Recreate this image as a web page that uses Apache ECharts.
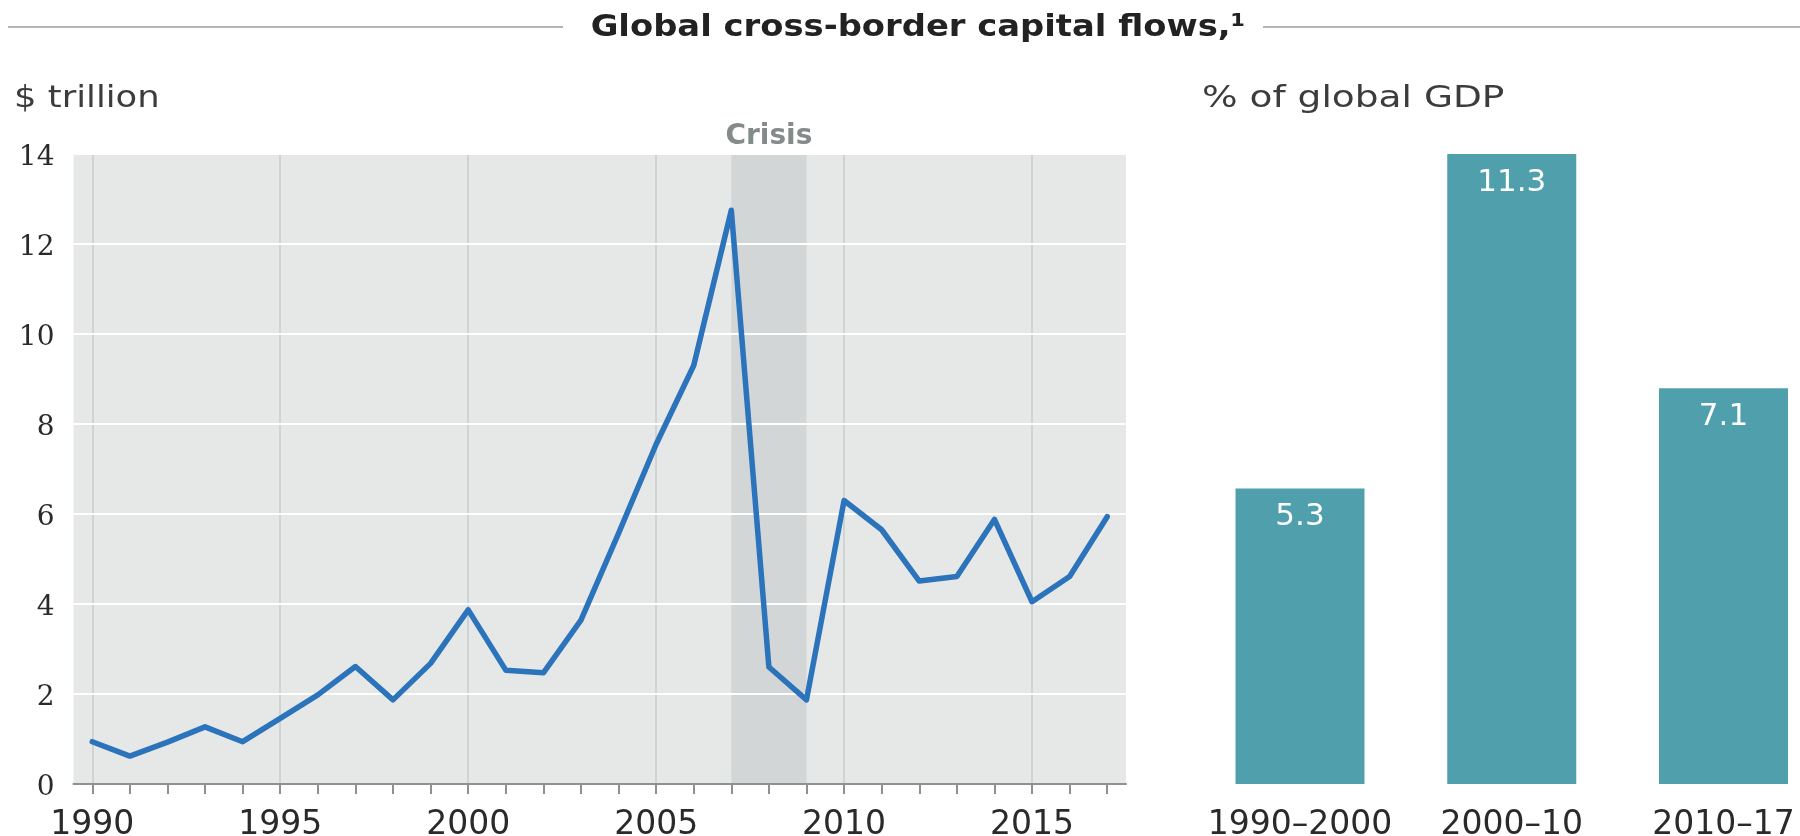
<!DOCTYPE html>
<html>
<head>
<meta charset="utf-8">
<script src="https://cdn.jsdelivr.net/npm/echarts@6/dist/echarts.min.js"></script>
<style>
  html, body { margin: 0; padding: 0; background: #ffffff; }
  #chart { width: 1800px; height: 836px; }
</style>
</head>
<body>
<div id="chart"></div>
<script>
// Annual gross cross-border capital flows, $ trillion
const years = ['1990', '1991', '1992', '1993', '1994', '1995', '1996', '1997', '1998', '1999',
               '2000', '2001', '2002', '2003', '2004', '2005', '2006', '2007', '2008', '2009',
               '2010', '2011', '2012', '2013', '2014', '2015', '2016', '2017'];
const flowsTrillion = [0.94, 0.62, 0.93, 1.27, 0.94, 1.46, 1.98, 2.61, 1.87, 2.68,
                       3.87, 2.53, 2.47, 3.64, 5.57, 7.55, 9.30, 12.75, 2.60, 1.87,
                       6.30, 5.65, 4.51, 4.61, 5.88, 4.05, 4.61, 5.94];

// Vertical reference lines and the shaded crisis window
const gridYears = ['1990', '1995', '2000', '2005', '2010', '2015'];
const crisisSpan = ['2007', '2009'];
const crisisLabel = 'Crisis';

// Average flows as a share of global GDP, by period
const periods = ['1990\u20132000', '2000\u201310', '2010\u201317'];
const shareOfGdp = [5.3, 11.3, 7.1];

// Left value axis
const yMin = 0, yMax = 14, yStep = 2;

const titleText = 'Global cross-border capital flows,\u00B9';
const leftUnit = '$ trillion';
const rightUnit = '% of global GDP';

const sans = '"DejaVu Sans", "Liberation Sans", sans-serif';
const serif = '"DejaVu Serif", "Liberation Serif", serif';

const chart = echarts.init(document.getElementById('chart'), null, { renderer: 'canvas' });

const option = {
  animation: false,
  backgroundColor: '#ffffff',
  grid: [
    { left: 73.5, right: 674, top: 154, bottom: 52, show: true,
      backgroundColor: '#e6e7e7', borderWidth: 0, outerBoundsMode: 'none' },
    { left: 1300, right: 76.5, top: 154, bottom: 52, outerBoundsMode: 'none' }
  ],
  xAxis: [
    {
      type: 'category', gridIndex: 0, data: years, boundaryGap: true, z: 1.6,
      axisLine: { show: true, lineStyle: { color: '#8e9191', width: 2 } },
      axisTick: { show: true, alignWithLabel: true, interval: 0, length: 10,
                  lineStyle: { color: '#8e9191', width: 2 } },
      axisLabel: { interval: 4, margin: 25, fontFamily: sans, fontSize: 33, color: '#2a2a2a' },
      splitLine: { show: false }
    },
    {
      type: 'category', gridIndex: 1, data: periods, boundaryGap: false,
      axisLine: { show: false }, axisTick: { show: false },
      axisLabel: { interval: 0, hideOverlap: false, margin: 25, fontFamily: sans, fontSize: 33,
                   color: '#2a2a2a' },
      splitLine: { show: false }
    }
  ],
  yAxis: [
    {
      type: 'value', gridIndex: 0, min: yMin, max: yMax, interval: yStep, z: 1.5,
      axisLine: { show: false }, axisTick: { show: false },
      axisLabel: {
        margin: 19,
        formatter: v => '{v|' + v + '}',
        rich: { v: { fontFamily: serif, fontSize: 28, color: '#2a2a2a', padding: [8, 0, 0, 0] } }
      },
      splitLine: { show: true, lineStyle: { color: '#ffffff', width: 2 } }
    },
    {
      type: 'value', gridIndex: 1, min: 0, max: Math.max(...shareOfGdp), show: false,
      splitLine: { show: false }
    }
  ],
  series: [
    {
      type: 'line', xAxisIndex: 0, yAxisIndex: 0, data: flowsTrillion, z: 2,
      symbol: 'none', showSymbol: false,
      lineStyle: { color: '#2b73ba', width: 5.5, join: 'round', cap: 'round' },
      markArea: {
        silent: true, z: 1,
        itemStyle: { color: '#d3d6d6' },
        label: { show: true, position: 'top', distance: 3, formatter: crisisLabel,
                 fontFamily: sans, fontSize: 28, fontWeight: 'bold', color: '#848b8b' },
        data: [[{ xAxis: crisisSpan[0] }, { xAxis: crisisSpan[1] }]]
      },
      markLine: {
        silent: true, z: 1.2, symbol: 'none',
        label: { show: false },
        lineStyle: { color: '#c9cccc', width: 1.5, type: 'solid' },
        data: gridYears.map(y => ({ xAxis: y }))
      }
    },
    {
      type: 'bar', xAxisIndex: 1, yAxisIndex: 1, data: shareOfGdp,
      barWidth: 129, clip: false,
      itemStyle: { color: '#4fa0ac' },
      label: { show: true, position: 'insideTop', distance: 13, color: '#ffffff',
               fontFamily: sans, fontSize: 31,
               formatter: p => p.value.toFixed(1) }
    }
  ],
  graphic: [
    { type: 'line', shape: { x1: 8, y1: 27, x2: 563, y2: 27 },
      style: { stroke: '#b4b4b4', lineWidth: 2 } },
    { type: 'line', shape: { x1: 1263, y1: 27, x2: 1800, y2: 27 },
      style: { stroke: '#b4b4b4', lineWidth: 2 } },
    { type: 'text', x: 918, y: 28, scaleX: 1.09,
      style: { text: titleText, font: 'bold 31px ' + sans, fill: '#222222',
               align: 'center', verticalAlign: 'middle' } },
    { type: 'text', x: 14, y: 99, scaleX: 1.18,
      style: { text: leftUnit, font: '30px ' + sans, fill: '#3c3c3c',
               align: 'left', verticalAlign: 'middle' } },
    { type: 'text', x: 1202, y: 99, scaleX: 1.25,
      style: { text: rightUnit, font: '30px ' + sans, fill: '#3c3c3c',
               align: 'left', verticalAlign: 'middle' } }
  ]
};

chart.setOption(option);
</script>
</body>
</html>
